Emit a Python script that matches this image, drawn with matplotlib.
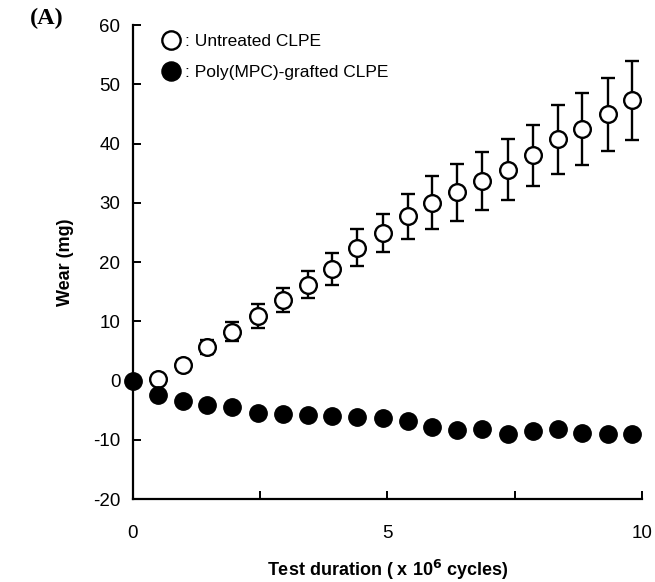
import matplotlib
matplotlib.use("Agg")
import matplotlib.pyplot as plt

# font close to Arial / Helvetica in the scanned figure
plt.rcParams['font.family'] = ['Liberation Sans', 'DejaVu Sans']
plt.rcParams['axes.unicode_minus'] = False

# test duration (x 10^6 cycles)
cycles = [0.49, 0.98, 1.46, 1.95, 2.46, 2.95, 3.43, 3.92, 4.41, 4.91,
          5.40, 5.88, 6.37, 6.86, 7.37, 7.86, 8.36, 8.83, 9.33, 9.81]

# untreated CLPE: wear (mg) and its error bars
untreated_wear = [0.2, 2.6, 5.6, 8.2, 10.9, 13.6, 16.2, 18.9, 22.4, 24.9,
                  27.7, 30.0, 31.8, 33.6, 35.6, 38.0, 40.7, 42.4, 44.9, 47.3]
untreated_err = [0.5, 0.8, 1.2, 1.6, 2.0, 2.0, 2.25, 2.7, 3.1, 3.2,
                 3.8, 4.5, 4.8, 4.9, 5.2, 5.2, 5.8, 6.1, 6.2, 6.7]

# poly(MPC)-grafted CLPE, starts at the origin
grafted_cycles = [0.0] + cycles
grafted_wear = [0.0, -2.5, -3.5, -4.2, -4.4, -5.4, -5.7, -5.9, -6.0, -6.1, -6.4,
                -6.8, -7.8, -8.3, -8.2, -9.0, -8.6, -8.2, -8.8, -9.0, -9.0]

y_ticks = [-20, -10, 0, 10, 20, 30, 40, 50, 60]
x_ticks = [0, 2.5, 5, 7.5, 10]
x_tick_labels = ["0", "", "5", "", "10"]

fig = plt.figure(figsize=(6.55, 5.82), dpi=100)
ax = fig.add_axes([0.203, 0.1426, 0.777, 0.8144])

# open circles with error bars (white fill hides the bar inside the circle)
ax.errorbar(cycles, untreated_wear, yerr=untreated_err, fmt='none',
            ecolor='black', elinewidth=1.7, capsize=4.7, capthick=1.7,
            clip_on=False, zorder=2)
h_open, = ax.plot(cycles, untreated_wear, 'o', ms=12, mfc='white',
                  mec='black', mew=1.7, ls='none', clip_on=False, zorder=3)
h_fill, = ax.plot(grafted_cycles, grafted_wear, 'o', ms=12.5, mfc='black',
                  mec='black', ls='none', clip_on=False, zorder=4)

ax.set_xlim(0, 10)
ax.set_ylim(-20, 60)
ax.set_yticks(y_ticks)
ax.set_xticks(x_ticks)
ax.set_xticklabels(x_tick_labels)

ax.spines['top'].set_visible(False)
ax.spines['right'].set_visible(False)
ax.spines['left'].set_linewidth(1.6)
ax.spines['bottom'].set_linewidth(1.6)
ax.tick_params(axis='both', direction='in', length=6, width=1.4, labelsize=13.5)
ax.tick_params(axis='y', pad=9)
ax.tick_params(axis='x', pad=19)

ax.set_ylabel("Wear (mg)", fontsize=13, fontweight='bold', labelpad=14)
ax.set_xlabel("Test duration ( x 10$^{\\mathbf{6}}$ cycles)", fontsize=13,
              fontweight='bold', labelpad=11)

ax.legend([h_open, h_fill], [": Untreated CLPE", ": Poly(MPC)-grafted CLPE"],
          loc='upper left', bbox_to_anchor=(0.045, 0.995), frameon=False,
          fontsize=12.5, handletextpad=0.3, labelspacing=0.9, handlelength=1.0,
          borderaxespad=0.0, markerscale=1.1)

fig.text(0.045, 0.968, "(A)", fontsize=17.5, fontweight='bold',
         family=['Liberation Serif', 'DejaVu Serif'], va='center')

fig.savefig("out.png", dpi=100)
